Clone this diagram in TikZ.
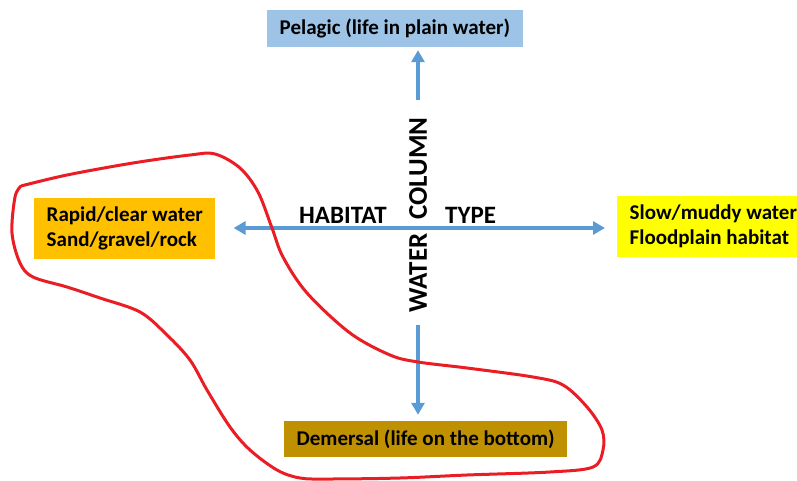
\documentclass[tikz,border=0pt]{standalone}
\usepackage{fontspec}
\setmainfont{Carlito}
\usepackage{tikz}
\usetikzlibrary{arrows.meta, positioning}

\definecolor{axisblue}{HTML}{5B9BD5}
\definecolor{pelagicblue}{HTML}{9DC3E6}
\definecolor{rapidorange}{HTML}{FFC000}
\definecolor{slowyellow}{HTML}{FFFF00}
\definecolor{demersalgold}{HTML}{BF9000}
\definecolor{loopred}{HTML}{EA1C24}

\begin{document}
\begin{tikzpicture}[x=1pt, y=-1pt, >={Triangle[width=13pt,length=12pt]},
    habbox/.style={anchor=west, inner xsep=12.5pt, inner ysep=0pt, align=left,
        font=\fontsize{21}{25.5}\selectfont\bfseries},
    axislabel/.style={inner sep=0pt, font=\fontsize{25}{28}\selectfont\bfseries},
    axisline/.style={axisblue, line width=4pt}]
    \useasboundingbox (0,0) rectangle (797,481);

    % Nodes
    \node[habbox, fill=pelagicblue, minimum height=37pt] (pelagic) at (267,28.5) {Pelagic (life in plain water)};
    \node[habbox, fill=demersalgold, minimum height=36pt] (demersal) at (284,439) {Demersal (life on the bottom)};
    \node[habbox, fill=rapidorange, minimum height=61pt] (rapid) at (34,228.5) {Rapid/clear water\\Sand/gravel/rock};
    \node[habbox, fill=slowyellow, minimum height=61pt] (slow) at (617,226.5) {Slow/muddy water\\Floodplain habitat};

    \node[axislabel, rotate=90, font=\fontsize{27}{30}\selectfont\bfseries] (column) at (418,215) {WATER\hspace{8pt} COLUMN};
    \node[axislabel, anchor=base west] (habitat) at (299,223) {HABITAT};
    \node[axislabel, anchor=base west] (type) at (445,223) {TYPE};
    \coordinate (habline) at (418,228);

    % Paths
    \draw[axisline, ->, shorten <=17pt, shorten >=3pt] (column.east) -- (column.east |- pelagic.south);
    \draw[axisline, ->, shorten <=12pt, shorten >=6pt] (column.west) -- (column.west |- demersal.north);
    \draw[axisline, <->, shorten <=18pt, shorten >=12pt] (rapid.east |- habline) -- (slow.west |- habline);

    % the hand drawn loop
    \draw[loopred, line width=3pt, line join=round] plot[smooth, tension=0.55] coordinates {
        (21,186) (67,175) (133,163) (190,155) (215,154) (240,168) (258,192)
        (272,228) (283,257) (307,293) (350,333) (390,355) (418,362) (467,368)
        (533,377) (563,385) (587,407) (602,430) (603,450) (593,467) (550,472)
        (467,475) (400,478) (330,479) (300,478) (277,470) (250,450) (230,427)
        (207,390) (190,360) (167,335) (140,312) (100,298) (67,287) (33,277)
        (20,263) (12,233) (15,197) (21,186)};
\end{tikzpicture}
\end{document}
